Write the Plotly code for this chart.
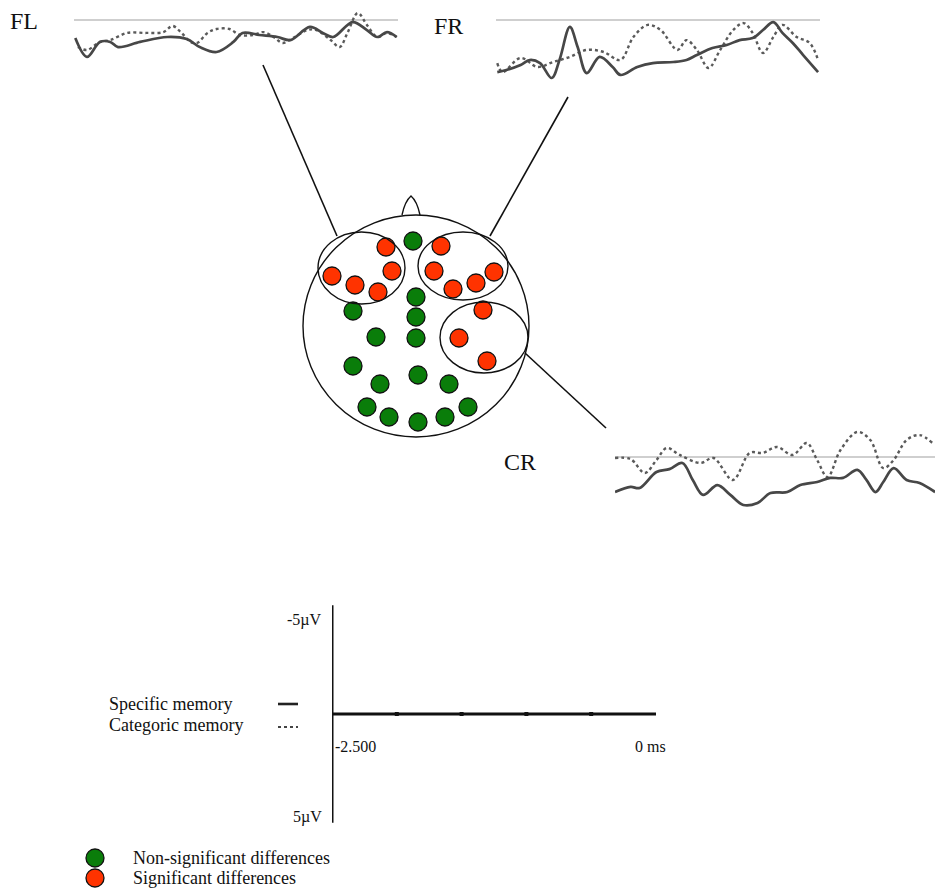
import plotly.graph_objects as go

W, H = 935, 891
PPU = 20.5            # pixels per microvolt in the figure
MS_SPAN = 2500.0      # epoch length (ms)
EPOCH_PX = 324.0      # pixel width of a 2500 ms epoch

# ---------------- data: ERP waveforms (time in ms, amplitude in µV, negative up) -------------
fl_solid_t = [-2490, -2400, -2300, -2220, -2160, -1990, -1780, -1630, -1530, -1400, -1270, -1200,
              -1070, -930, -830, -680, -580, -500, -350, -240, -160, -85, -10]
fl_solid_uv = [0.88, 1.80, 1.07, 1.07, 1.32, 1.07, 0.83, 0.93, 1.32, 1.56, 1.07, 0.63,
               0.73, 0.83, 0.98, 0.34, 0.63, 0.83, 0.10, 0.49, 0.83, 0.59, 0.83]
fl_dot_t = [-2470, -2400, -2300, -2220, -2090, -1940, -1810, -1740, -1670, -1600, -1550, -1470,
            -1400, -1300, -1220, -1120, -1040, -960, -890, -810, -700, -630, -520, -450, -390,
            -310, -240, -160, -85, -10]
fl_dot_uv = [1.32, 1.46, 1.07, 0.98, 0.63, 0.63, 0.59, 0.29, 0.63, 1.07, 1.12, 0.63,
             0.44, 0.44, 0.73, 0.73, 0.59, 0.83, 1.12, 0.88, 0.49, 0.49, 0.98, 1.32, 0.63,
             -0.34, 0.24, 0.83, 0.63, 0.83]

fr_solid_t = [-2490, -2420, -2310, -2240, -2160, -2070, -2010, -1930, -1870, -1800, -1700, -1600,
              -1540, -1410, -1290, -1130, -1030, -950, -830, -720, -620, -520, -440, -360, -290,
              -210, -130, -15]
fr_solid_uv = [2.54, 2.44, 2.20, 1.95, 2.10, 2.83, 1.95, 0.34, 1.32, 2.59, 1.80, 2.29,
               2.68, 2.29, 2.10, 2.05, 1.95, 1.71, 1.37, 1.22, 0.98, 0.88, 0.49, 0.10, 0.63,
               1.12, 1.71, 2.54]
fr_dot_t = [-2490, -2450, -2310, -2180, -2060, -1930, -1800, -1670, -1540, -1440, -1330, -1230,
            -1100, -1030, -950, -860, -770, -670, -590, -520, -440, -360, -290, -180, -80, -15]
fr_dot_uv = [2.10, 2.54, 1.85, 2.29, 2.05, 1.80, 1.46, 1.56, 1.95, 0.83, 0.24, 0.49,
             1.46, 0.98, 1.46, 2.34, 1.46, 0.49, 0.15, 0.63, 1.61, 0.83, 0.24, 0.83, 1.12, 1.95]

cr_solid_t = [-2500, -2380, -2310, -2180, -2080, -1980, -1900, -1820, -1710, -1610, -1510, -1400,
              -1300, -1170, -1070, -940, -840, -740, -630, -560, -490, -430, -350, -250, -150, -30]
cr_solid_uv = [1.71, 1.46, 1.51, 0.73, 0.59, 0.29, 1.12, 1.85, 1.37, 1.85, 2.34, 2.24,
               1.76, 1.71, 1.37, 1.22, 1.02, 1.02, 0.63, 1.12, 1.71, 1.22, 0.54, 1.12, 1.27, 1.71]
cr_dot_t = [-2500, -2380, -2270, -2180, -2100, -2000, -1840, -1740, -1590, -1460, -1360, -1250,
            -1130, -1020, -940, -860, -760, -630, -530, -430, -350, -250, -150, -50]
cr_dot_uv = [0.05, 0.10, 0.78, 0.15, -0.44, -0.10, 0.29, 0.05, 1.12, -0.20, -0.20, -0.49,
             -0.10, -0.68, 0.15, 0.98, -0.34, -1.22, -0.83, 0.54, 0.15, -0.83, -1.07, -0.68]

# ---------------- data: electrodes on the scalp map -------------
elec_x = [386, 392, 332, 355, 378, 441, 434, 453, 476, 494, 483, 459, 487,
          413, 416, 416, 416, 353, 376, 353, 418, 380, 449, 367, 389, 418, 445, 468]
elec_y = [247, 271, 276, 285, 292, 246, 271, 289, 283, 272, 310, 338, 361,
          241, 297, 317, 338, 311, 337, 366, 375, 384, 384, 407, 417, 422, 417, 407]
elec_sig = [1] * 13 + [0] * 15

# ---------------- data: scale bar & labels -------------
scale_uv = [-5, 5]
scale_ticks_ms = [-2000, -1500, -1000, -500]
region_labels = ["FL", "FR", "CR"]
legend_labels = ["Non-significant differences", "Significant differences"]
cond_labels = ["Specific memory", "Categoric memory"]

GREEN = "#0a7d0a"
RED = "#ff3300"
SOLID_C = "#474747"
DOT_C = "#5a5a5a"
BASE_C = "#cfcfcf"
SERIF = "Liberation Serif"

fig = go.Figure()

# main pixel-space canvas
fig.update_layout(
    width=W, height=H, margin=dict(l=0, r=0, t=0, b=0),
    paper_bgcolor="white", plot_bgcolor="rgba(0,0,0,0)", showlegend=False,
    xaxis=dict(domain=[0, 1], range=[0, W], visible=False, fixedrange=True),
    yaxis=dict(domain=[0, 1], range=[H, 0], visible=False, fixedrange=True),
)


def panel(idx, x0, x1, y0, y1, base_px, t0=-MS_SPAN):
    t1 = t0 + (x1 - x0) * MS_SPAN / EPOCH_PX
    xa = dict(domain=[x0 / W, x1 / W], range=[t0, t1], visible=False,
              anchor="y%d" % idx, fixedrange=True)
    ya = dict(domain=[1 - y1 / H, 1 - y0 / H],
              range=[(y1 - base_px) / PPU, (y0 - base_px) / PPU],
              visible=False, anchor="x%d" % idx, fixedrange=True)
    fig.update_layout(**{"xaxis%d" % idx: xa, "yaxis%d" % idx: ya})
    return "x%d" % idx, "y%d" % idx


panels = [
    (2, 74, 400, 0, 100, 20, fl_solid_t, fl_solid_uv, fl_dot_t, fl_dot_uv, 0),
    (3, 496, 822, 0, 100, 20, fr_solid_t, fr_solid_uv, fr_dot_t, fr_dot_uv, 0),
    (4, 615, 935, 400, 540, 457, cr_solid_t, cr_solid_uv, cr_dot_t, cr_dot_uv, None),
]
for idx, x0, x1, y0, y1, b, st, sv, dt, dv, tend in panels:
    xr, yr = panel(idx, x0, x1, y0, y1, b)
    t_last = 0 if tend == 0 else -MS_SPAN + (x1 - x0) * MS_SPAN / EPOCH_PX
    fig.add_trace(go.Scatter(x=[-MS_SPAN, t_last], y=[0, 0], xaxis=xr, yaxis=yr, mode="lines",
                             line=dict(color=BASE_C, width=2.2), hoverinfo="skip"))
    fig.add_trace(go.Scatter(x=dt, y=dv, xaxis=xr, yaxis=yr, mode="lines",
                             line=dict(color=DOT_C, width=2.4, dash="dot", shape="spline",
                                       smoothing=1.0), hoverinfo="skip"))
    fig.add_trace(go.Scatter(x=st, y=sv, xaxis=xr, yaxis=yr, mode="lines",
                             line=dict(color=SOLID_C, width=2.7, shape="spline", smoothing=1.0),
                             hoverinfo="skip"))

# scale bar panel
xs, ys = panel(5, 332, 660, 600, 830, 714)
fig.add_trace(go.Scatter(x=[-MS_SPAN, 0], y=[0, 0], xaxis=xs, yaxis=ys, mode="lines",
                         line=dict(color="#111", width=3), hoverinfo="skip"))
fig.add_trace(go.Scatter(x=[-MS_SPAN, -MS_SPAN], y=[scale_uv[0] - 0.3, scale_uv[1] + 0.3],
                         xaxis=xs, yaxis=ys, mode="lines",
                         line=dict(color="#111", width=3), hoverinfo="skip"))
fig.add_trace(go.Scatter(x=scale_ticks_ms, y=[0] * len(scale_ticks_ms), xaxis=xs, yaxis=ys,
                         mode="markers", marker=dict(color="#111", size=4, symbol="square"),
                         hoverinfo="skip"))

# scalp outline
shapes = []
shapes.append(dict(type="circle", xref="x", yref="y", x0=303, x1=529, y0=215, y1=437,
                   line=dict(color="#111", width=1.4)))
shapes.append(dict(type="path", xref="x", yref="y",
                   path="M 402 215 Q 405 201 411 196 Q 417 201 420 215",
                   line=dict(color="#111", width=1.4)))
for (cx0, cx1, cy0, cy1) in [(318, 405, 232, 304), (418, 508, 232, 300), (440, 528, 302, 373)]:
    shapes.append(dict(type="circle", xref="x", yref="y", x0=cx0, x1=cx1, y0=cy0, y1=cy1,
                       line=dict(color="#111", width=1.4)))
for (ax, ay, bx, by) in [(263, 65, 337, 236), (568, 97, 490, 236), (525, 353, 606, 428)]:
    shapes.append(dict(type="line", xref="x", yref="y", x0=ax, y0=ay, x1=bx, y1=by,
                       line=dict(color="#111", width=1.6)))
# condition line samples
shapes.append(dict(type="line", xref="x", yref="y", x0=278, x1=298, y0=704, y1=704,
                   line=dict(color="#222", width=2.6)))
shapes.append(dict(type="line", xref="x", yref="y", x0=278, x1=298, y0=727, y1=727,
                   line=dict(color="#444", width=2.2, dash="dot")))
fig.update_layout(shapes=shapes)

# electrodes
fig.add_trace(go.Scatter(
    x=elec_x, y=elec_y, mode="markers", xaxis="x", yaxis="y",
    marker=dict(size=18, color=[RED if s else GREEN for s in elec_sig],
                line=dict(color="#111", width=1.3)),
    hoverinfo="skip"))
# legend markers
fig.add_trace(go.Scatter(
    x=[95, 95], y=[858, 878], mode="markers", xaxis="x", yaxis="y",
    marker=dict(size=18, color=[GREEN, RED], line=dict(color="#111", width=1.3)),
    hoverinfo="skip"))

ann = []


def txt(x, y, s, size, anchor="left"):
    ann.append(dict(x=x, y=y, xref="x", yref="y", text=s, showarrow=False,
                    xanchor=anchor, yanchor="middle",
                    font=dict(family=SERIF, size=size, color="#111")))


txt(8, 21, region_labels[0], 24)
txt(432, 26, region_labels[1], 24)
txt(502, 462, region_labels[2], 24)
txt(324, 620, "-5µV", 16, "right")
txt(324, 817, "5µV", 16, "right")
txt(333, 746, "-2.500", 16)
txt(668, 746, "0 ms", 16, "right")
txt(107, 704, cond_labels[0], 18)
txt(107, 725, cond_labels[1], 18)
txt(131, 858, legend_labels[0], 18)
txt(131, 878, legend_labels[1], 18)
fig.update_layout(annotations=ann)

fig.write_html("out.html", config={"displayModeBar": False},
               post_script="document.body.style.margin='0';")
